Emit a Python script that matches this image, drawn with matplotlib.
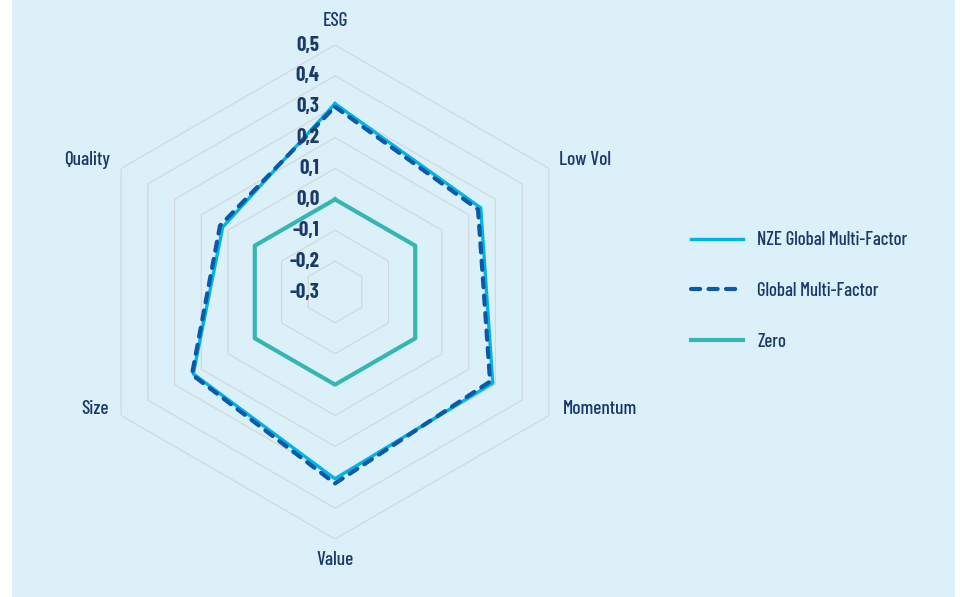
import numpy as np
import matplotlib.pyplot as plt
from matplotlib.patches import Rectangle

factors = ['ESG', 'Low Vol', 'Momentum', 'Value', 'Size', 'Quality']
nze = [0.31, 0.245, 0.29, 0.305, 0.23, 0.12]
gmf = [0.30, 0.235, 0.28, 0.32, 0.235, 0.13]
zero = [0.0, 0.0, 0.0, 0.0, 0.0, 0.0]
levels = [0.5, 0.4, 0.3, 0.2, 0.1, 0.0, -0.1, -0.2, -0.3]
level_labels = ['0,5', '0,4', '0,3', '0,2', '0,1', '0,0', '-0,1', '-0,2', '-0,3']

navy = '#1b3a6c'
bg = '#dcf0f9'
plt.rcParams['font.family'] = ['Barlow Condensed', 'Fira Sans Extra Condensed',
                               'Fira Sans Condensed', 'Liberation Sans Narrow', 'DejaVu Sans']

fig = plt.figure(figsize=(9.62, 5.97), dpi=100)
fig.patch.set_facecolor('white')
fig.patches.append(Rectangle((12 / 962, 0), 943 / 962, 1, transform=fig.transFigure,
                             facecolor=bg, edgecolor='none', zorder=-1))

ax = fig.add_axes([88 / 962, 1 - 539 / 597, 494 / 962, 494 / 597], projection='polar')
ax.set_facecolor('none')
ax.set_theta_offset(np.pi / 2)
ax.set_theta_direction(-1)
ax.set_ylim(-0.3, 0.5)
ax.grid(False)
ax.spines['polar'].set_visible(False)
ax.set_xticks([])
ax.set_yticks([])

angles = np.linspace(0, 2 * np.pi, len(factors), endpoint=False)
closed = np.append(angles, angles[0])

# hexagonal grid rings
for lv in levels[:-1]:
    ax.plot(closed, [lv] * (len(factors) + 1), color='#d5d8d9', lw=0.9, zorder=1)


def close(vals):
    return vals + vals[:1]


ax.plot(closed, close(nze), color='#00b4e8', lw=2.4, zorder=3, label='NZE Global Multi-Factor')
ax.plot(closed, close(gmf), color='#0a5aa8', lw=3.0, zorder=4, dashes=(2.2, 2.0),
        dash_capstyle='round', label='Global Multi-Factor')
ax.plot(closed, close(zero), color='#35b6b3', lw=3.0, zorder=2, label='Zero')

# radial value labels along the ESG axis
for lv, txt in zip(levels, level_labels):
    ax.annotate(txt, xy=(0, lv), xytext=(-11, 0), textcoords='offset points',
                ha='right', va='center', fontsize=15, fontweight='bold', color=navy,
                annotation_clip=False, zorder=5)

# factor names
label_pos = {'ESG': (335, 21, 'center'), 'Low Vol': (559, 160, 'left'),
             'Momentum': (563, 409, 'left'), 'Value': (335, 560, 'center'),
             'Size': (109, 409, 'right'), 'Quality': (110, 160, 'right')}
for name in factors:
    x, y, ha = label_pos[name]
    fig.text(x / 962, 1 - y / 597, name, ha=ha, va='center', fontsize=14,
             fontweight='medium', color=navy)

leg = ax.legend(loc='center left', bbox_to_anchor=(674 / 962, 1 - 291 / 597),
                bbox_transform=fig.transFigure, frameon=False,
                prop={'size': 13.5, 'weight': 'medium'},
                handlelength=2.8, handletextpad=0.75, labelspacing=1.75)
for t in leg.get_texts():
    t.set_color(navy)

fig.savefig('out.png', dpi=100, facecolor=fig.get_facecolor())
